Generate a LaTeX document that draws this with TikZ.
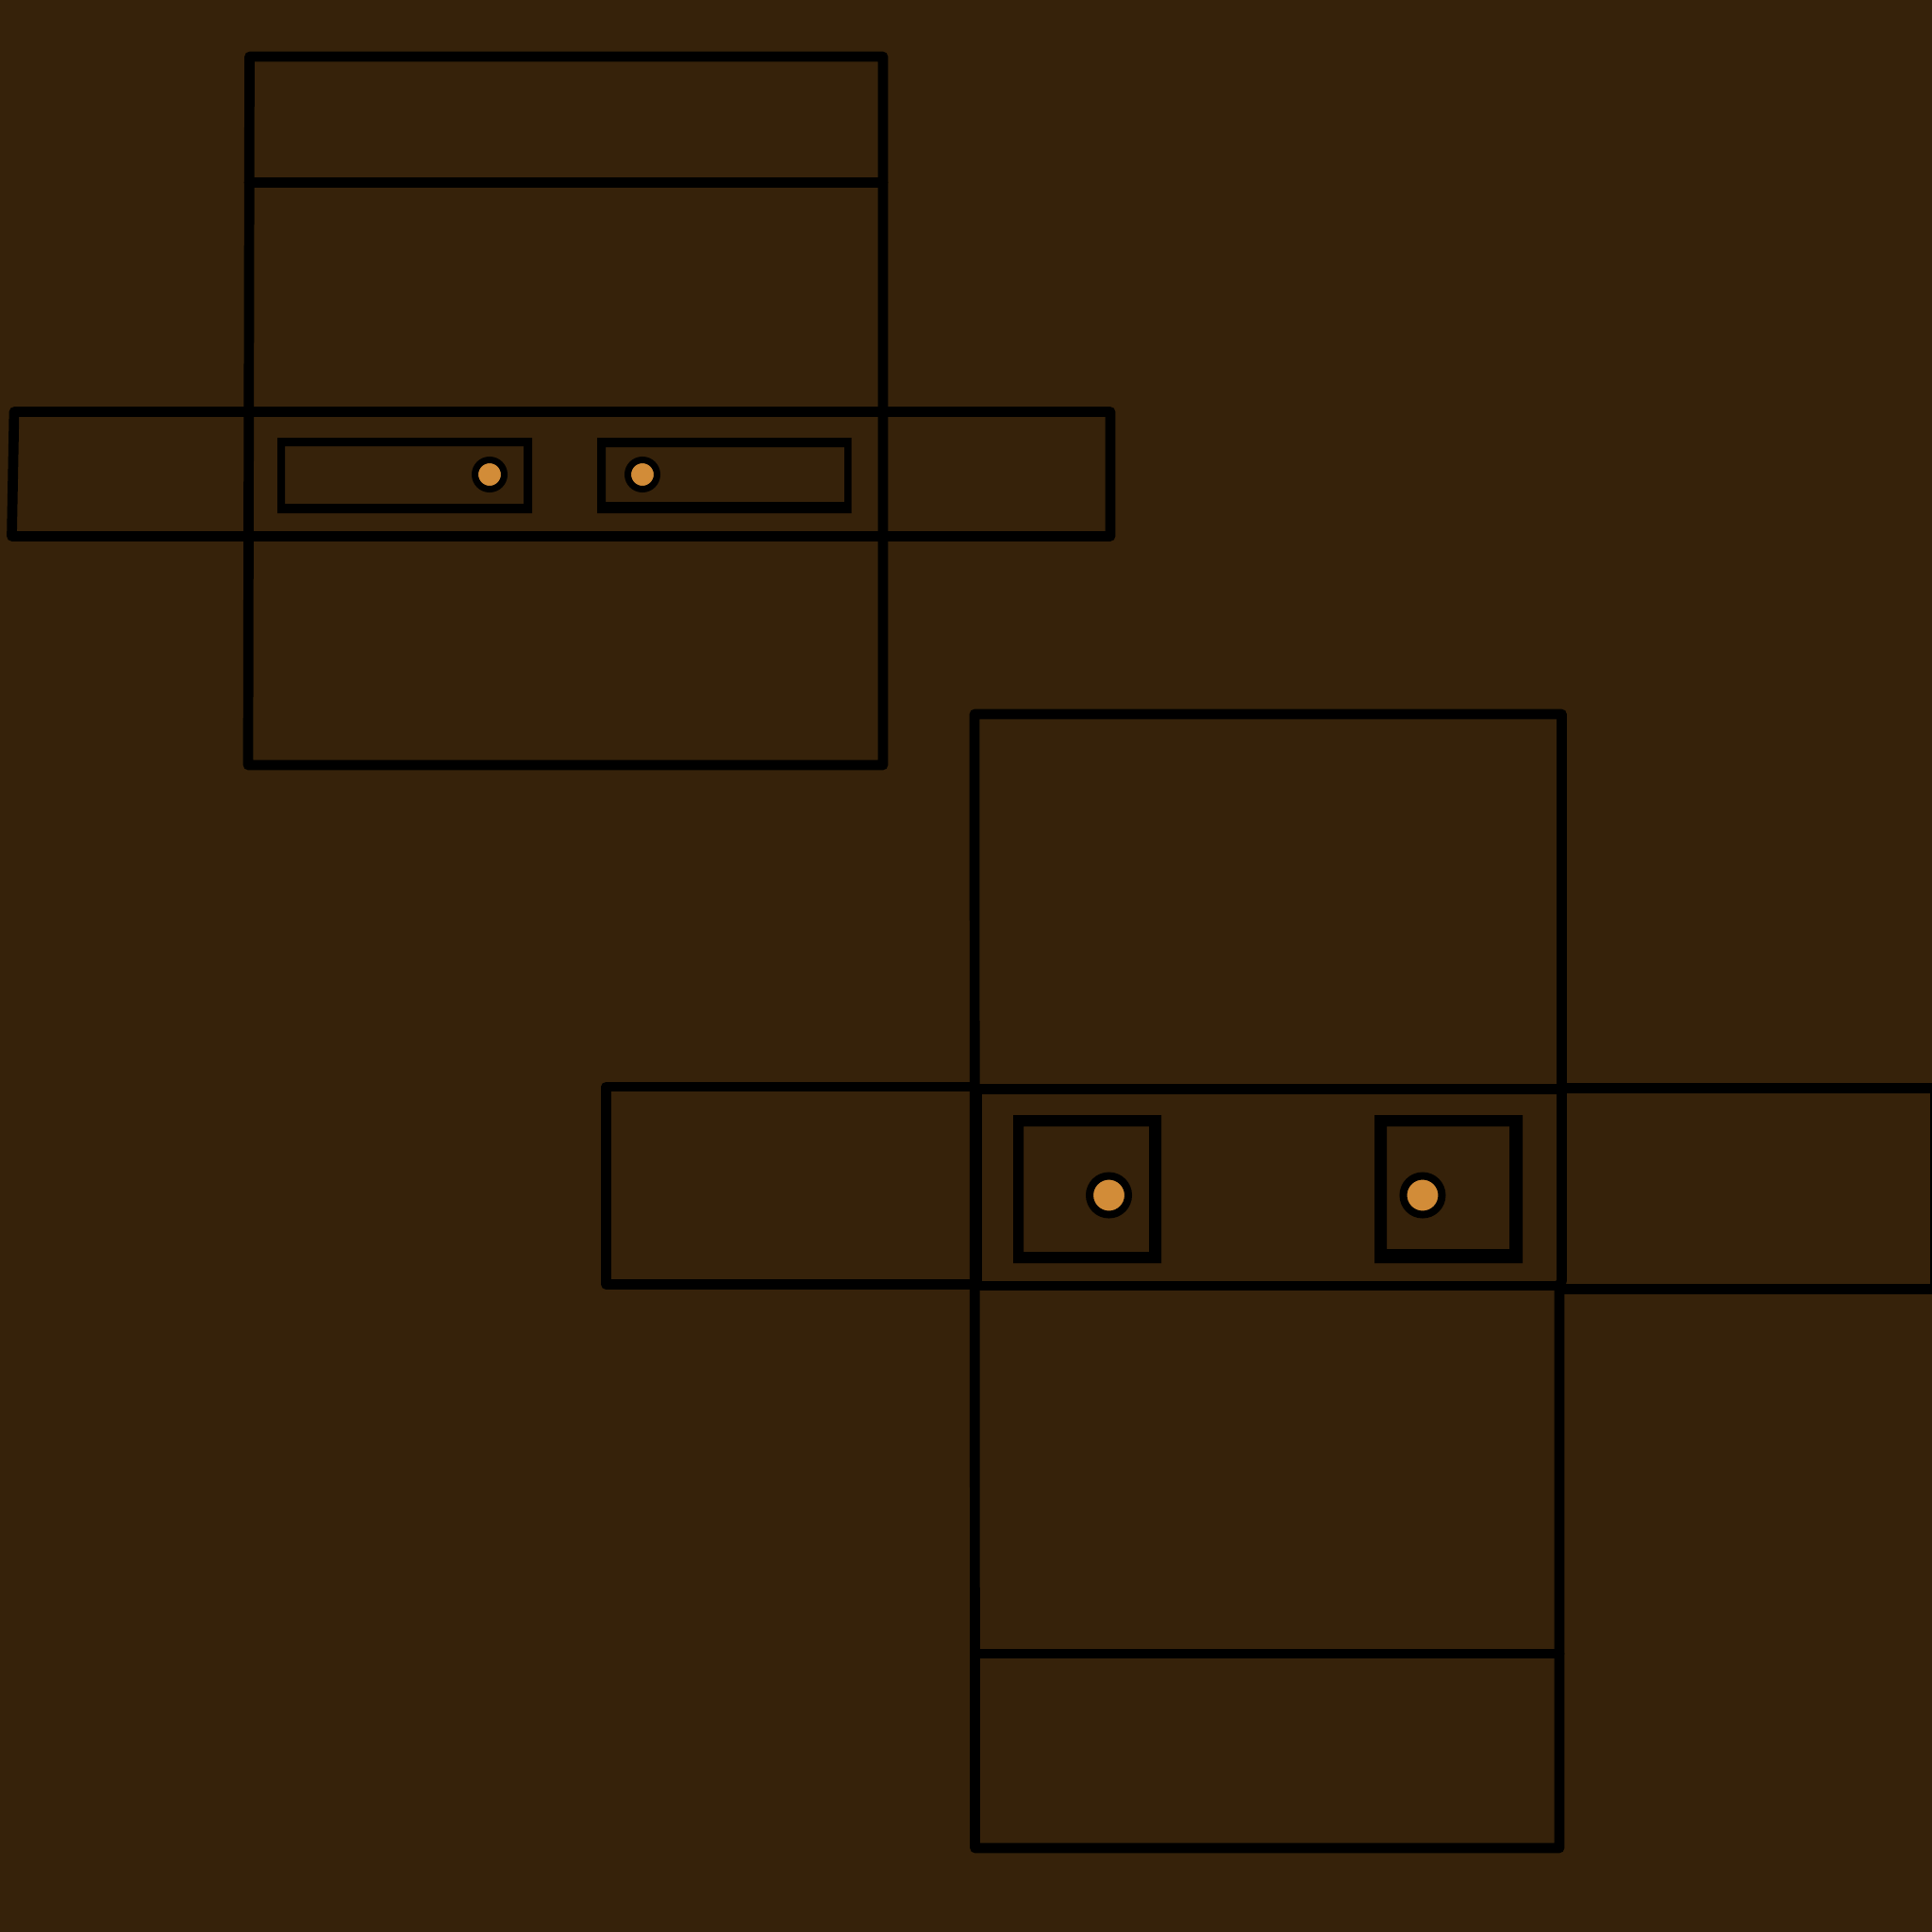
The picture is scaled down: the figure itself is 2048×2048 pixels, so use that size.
\documentclass[tikz,border=0pt]{standalone}
\definecolor{bark}{RGB}{54,34,10}
\definecolor{amber}{RGB}{210,140,56}
\tikzset{
	edge/.style={draw=black,line width=0.107cm,line join=round,line cap=round},
	slot/.style={fill=black,even odd rule},
	pin/.style={draw=black,fill=amber}
}

\begin{document}
\begin{tikzpicture}[x=0.01cm,y=-0.01cm]
			\fill[bark] (0,0) rectangle (2048,2048);
			\useasboundingbox (0,0) rectangle (2048,2048);
			
			\coordinate (A1) at (264.5,60);
			\coordinate (A2) at (936,60);
			\coordinate (A3) at (936,811);
			\coordinate (A4) at (263,811);
			\coordinate (B1) at (15,436.5);
			\coordinate (B2) at (1177,436.5);
			\coordinate (B3) at (1177,568.5);
			\coordinate (B4) at (12.5,568.5);
			\coordinate (C1) at (264,193.5);
			\coordinate (C2) at (936,193.5);
			\draw[edge] (A1)--(A2)--(A3)--(A4)--cycle;
			\draw[edge] (B1)--(B2)--(B3)--(B4)--cycle;
			\draw[edge] (C1)--(C2);
			
			\fill[slot] (294,464) rectangle (564,544) (302,473) rectangle (555,534);
			\fill[slot] (633,464) rectangle (902.5,544) (642,474) rectangle (895,532);
			\draw[pin,line width=0.07cm] (519,503) circle (15.5);
			\draw[pin,line width=0.07cm] (681,503) circle (15.5);
			
			\coordinate (D1) at (1033,757);
			\coordinate (D2) at (1655.5,757);
			\coordinate (D3) at (1655.5,1358);
			\coordinate (D4) at (1653,1362);
			\coordinate (D5) at (1653,1959);
			\coordinate (D6) at (1033.5,1959);
			\coordinate (E1) at (1033,1154.5);
			\coordinate (E2) at (1655,1154.5);
			\coordinate (E3) at (1033,1363);
			\coordinate (E4) at (1655,1363);
			\coordinate (F1) at (1033,1152);
			\coordinate (F2) at (642.5,1152);
			\coordinate (F3) at (642.5,1361.5);
			\coordinate (F4) at (1033,1361.5);
			\coordinate (G1) at (1655,1153.5);
			\coordinate (G2) at (2051,1153.5);
			\coordinate (G3) at (2051,1366.5);
			\coordinate (G4) at (1655,1366.5);
			\coordinate (H1) at (1034,1753);
			\coordinate (H2) at (1653,1753);
			\draw[edge] (D1)--(D2)--(D3)--(D4)--(D5)--(D6)--cycle;
			\draw[edge] (E1)--(E2);
			\draw[edge] (E3)--(E4);
			\draw[edge] (F1)--(F2)--(F3)--(F4);
			\draw[edge] (G1)--(G2)--(G3)--(G4);
			\draw[edge] (H1)--(H2);
			\draw[edge] (1035.5,1157)--(1035.5,1361);
			
			\fill[slot] (1074,1182) rectangle (1231,1339) (1085,1194) rectangle (1218,1327);
			\fill[slot] (1457,1182) rectangle (1614,1339) (1470,1194) rectangle (1600,1324);
			\draw[pin,line width=0.08cm] (1175.5,1267) circle (20.5);
			\draw[pin,line width=0.08cm] (1508,1267) circle (20.5);
		\end{tikzpicture}
\end{document}
